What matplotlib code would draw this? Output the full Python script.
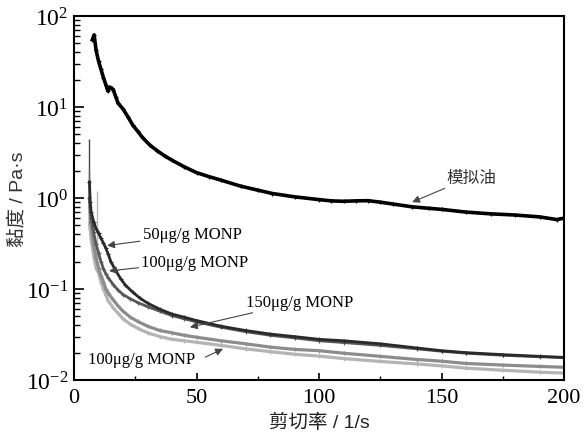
import matplotlib
matplotlib.use("Agg")
import matplotlib.pyplot as plt
from matplotlib.ticker import LogLocator, MultipleLocator, NullFormatter

plt.rcParams["font.family"] = ["Liberation Serif", "Noto Sans CJK SC"]
plt.rcParams["mathtext.fontset"] = "stix"

# 模拟油 (black)
oil_x = [7.5, 8.2, 9, 10, 11, 12, 13, 13.8, 14.5, 15.3, 16, 17, 18, 20, 22, 24, 26, 28, 31, 34,
         37, 40, 45, 50, 55, 60, 68, 75, 81, 90, 100, 105, 110, 115, 120, 125, 130, 138, 145,
         150, 160, 170, 180, 190, 197, 200]
oil_y = [55, 62, 42, 32, 26, 21, 17.5, 15, 16.5, 16, 15.5, 13, 11, 9.5, 7.8, 6.3, 5.4, 4.6, 3.8, 3.3,
         2.9, 2.6, 2.2, 1.9, 1.72, 1.57, 1.35, 1.22, 1.12, 1.03, 0.96, 0.93, 0.92, 0.93, 0.935, 0.9, 0.86, 0.8, 0.77,
         0.75, 0.7, 0.67, 0.65, 0.62, 0.58, 0.6]

# 50µg/g MONP (darkest)
c50_x = [6.3, 6.6, 7, 8, 9, 10, 11, 12, 13, 14, 15, 17, 19, 21, 24, 27, 30, 35, 40,
         45, 50, 60, 70, 80, 90, 100, 110, 125, 140, 150, 160, 175, 190, 200]
c50_y = [1.5, 0.9, 0.7, 0.55, 0.46, 0.41, 0.36, 0.32, 0.28, 0.24, 0.2, 0.16, 0.13, 0.11,
         0.092, 0.079, 0.07, 0.06, 0.053, 0.049, 0.045, 0.039, 0.035, 0.032, 0.030, 0.028, 0.027,
         0.025, 0.0225, 0.021, 0.020, 0.019, 0.0182, 0.0176]

# 100µg/g MONP (upper, dark gray)
c100a_x = [6.3, 7, 8, 9, 10, 11, 12, 13, 14, 16, 18, 20, 23, 26, 30, 35, 40, 45, 50, 60,
           70, 80, 90, 100, 110, 125, 140, 150, 160, 175, 190, 200]
c100a_y = [1.0, 0.6, 0.42, 0.31, 0.25, 0.2, 0.167, 0.147, 0.132, 0.112, 0.097, 0.087, 0.078,
           0.071, 0.064, 0.057, 0.051, 0.047, 0.0435, 0.038, 0.034, 0.031, 0.029, 0.027, 0.0258,
           0.024, 0.022, 0.0207, 0.0197, 0.0187, 0.018, 0.0178]

# 150µg/g MONP (medium gray)
c150_x = [6.5, 7, 8, 9, 10, 11, 12, 13, 14, 16, 18, 20, 23, 26, 30, 35, 40, 45, 50, 60,
          70, 80, 90, 100, 110, 125, 140, 150, 160, 175, 190, 200]
c150_y = [0.8, 0.5, 0.31, 0.22, 0.17, 0.14, 0.12, 0.1, 0.09, 0.076, 0.065, 0.057, 0.049,
          0.044, 0.039, 0.035, 0.033, 0.031, 0.0295, 0.027, 0.025, 0.023, 0.0217, 0.021, 0.0197,
          0.0182, 0.0168, 0.0161, 0.0152, 0.0146, 0.0141, 0.0138]

# 100µg/g MONP (lower, light gray)
c100b_x = [6.5, 7, 8, 9, 10, 11, 12, 13, 14, 16, 18, 20, 23, 26, 30, 35, 40, 45, 50,
           60, 70, 80, 90, 100, 110, 125, 140, 150, 160, 175, 190, 200]
c100b_y = [0.5, 0.35, 0.23, 0.17, 0.15, 0.12, 0.1, 0.086, 0.074, 0.062, 0.054, 0.047,
           0.041, 0.037, 0.033, 0.030, 0.028, 0.027, 0.026, 0.024, 0.022, 0.0205, 0.0192, 0.0183,
           0.0172, 0.016, 0.015, 0.0143, 0.0135, 0.0128, 0.0122, 0.0119]

# thin start-up spikes at the low shear end
spike_x = [6.1, 6.0, 9.3]
spike_lo = [0.5, 0.45, 0.17]
spike_hi = [4.5, 2.0, 1.2]
spike_col = ["#444444", "#666666", "#bbbbbb"]

fig = plt.figure(figsize=(5.88, 4.39), dpi=100)
ax = fig.add_axes([0.1259, 0.1321, 0.8333, 0.8292])

ax.vlines(spike_x, spike_lo, spike_hi, colors=spike_col, lw=1.0)
ax.plot(c100b_x, c100b_y, color="#b4b4b4", lw=2.3, marker="+", ms=3.5, mew=0.8)
ax.plot(c150_x, c150_y, color="#8c8c8c", lw=2.3, marker="+", ms=3.5, mew=0.8)
ax.plot(c100a_x, c100a_y, color="#585858", lw=2.0, marker="+", ms=3.5, mew=0.8)
ax.plot(c50_x, c50_y, color="#2a2a2a", lw=2.0, marker="+", ms=3.5, mew=0.8)
ax.plot(oil_x, oil_y, color="black", lw=2.6, marker="+", ms=3.5, mew=0.9)

ax.set_yscale("log")
ax.set_xlim(0, 200)
ax.set_ylim(1e-2, 1e2)
ax.xaxis.set_major_locator(MultipleLocator(50))
ax.xaxis.set_minor_locator(MultipleLocator(25))
ax.yaxis.set_major_locator(LogLocator(base=10))
ax.yaxis.set_minor_locator(LogLocator(base=10, subs=range(2, 10)))
ax.yaxis.set_minor_formatter(NullFormatter())

ax.tick_params(axis="both", which="both", direction="in", top=False, right=False)
ax.tick_params(axis="y", which="major", length=7, width=1.2, labelsize=17, pad=4)
ax.tick_params(axis="y", which="minor", length=4, width=1.0)
ax.tick_params(axis="x", which="major", length=5, width=1.2, labelsize=16, pad=6)
ax.tick_params(axis="x", which="minor", length=3, width=1.0)
for s in ax.spines.values():
    s.set_linewidth(1.5)

lab_font = ["Liberation Sans", "Noto Sans CJK SC"]
ax.set_xlabel("剪切率 / 1/s", fontsize=14, family=lab_font, color="#222222", labelpad=4)
ax.set_ylabel("黏度 / Pa·s", fontsize=14, family=lab_font, color="#333333", labelpad=0)

arrow = dict(arrowstyle="-|>", color="#444444", lw=0.8, mutation_scale=11,
             shrinkA=0, shrinkB=0)
ax.annotate("模拟油", xy=(138, 0.9), xytext=(152, 1.7), fontsize=12, va="center",
            family=["Noto Sans CJK SC"], color="#333333", arrowprops=arrow)
ax.annotate("50μg/g MONP", xy=(13.5, 0.30), xytext=(28, 0.40), fontsize=12, va="center",
            arrowprops=arrow)
ax.annotate("100μg/g MONP", xy=(14.3, 0.158), xytext=(27.5, 0.2), fontsize=12, va="center",
            arrowprops=arrow)
ax.annotate("150μg/g MONP", xy=(47.3, 0.038), xytext=(70, 0.072), fontsize=12, va="center",
            arrowprops=arrow)
ax.annotate("", xy=(60.8, 0.022), xytext=(53.5, 0.0178), arrowprops=arrow)
ax.text(5.5, 0.0172, "100μg/g MONP", fontsize=12, va="center")

fig.savefig("out.png", dpi=100)
